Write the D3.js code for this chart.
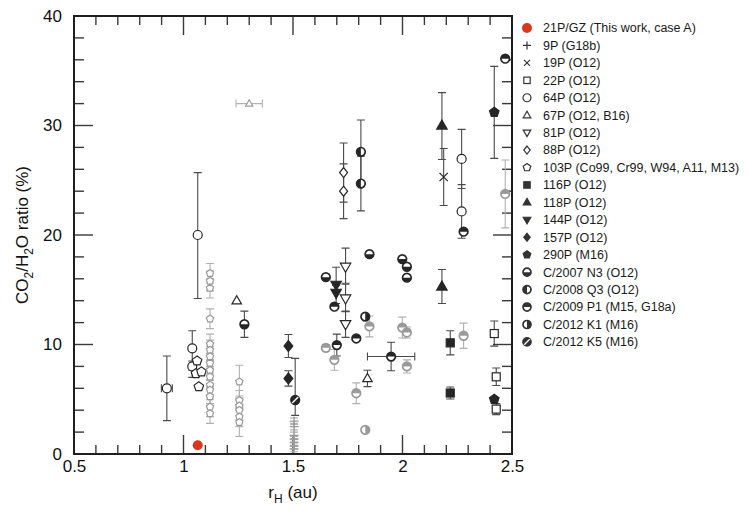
<!DOCTYPE html>
<html>
<head>
<meta charset="utf-8">
<script src="https://cdn.jsdelivr.net/npm/d3@7"></script>
<style>
  body { margin: 0; background: #fff; }
  svg { font-family: "Liberation Sans", Arial, Helvetica, sans-serif; display: block; }
</style>
</head>
<body>
<svg id="chart"></svg>
<script>
// ---- data (r in au, v = CO2/H2O %, e / up / dn = y error, xe = x error) ----
let legendNames = ['21P/GZ (This work, case A)', '9P (G18b)', '19P (O12)', '22P (O12)', '64P (O12)',
  '67P (O12, B16)', '81P (O12)', '88P (O12)', '103P (Co99, Cr99, W94, A11, M13)', '116P (O12)',
  '118P (O12)', '144P (O12)', '157P (O12)', '290P (M16)', 'C/2007 N3 (O12)', 'C/2008 Q3 (O12)',
  'C/2009 P1 (M15, G18a)', 'C/2012 K1 (M16)', 'C/2012 K5 (M16)']

let p21 = [{r: 1.065, v: 0.8}]
let p9 = [
  {r: 1.505, v: 3.0, e: 0.3, ref: 'G18b'}, {r: 1.505, v: 2.5, e: 0.3, ref: 'G18b'},
  {r: 1.505, v: 1.7, e: 0.3, ref: 'G18b'}, {r: 1.505, v: 1.35, e: 0.25, ref: 'G18b'},
  {r: 1.505, v: 1.05, e: 0.25, ref: 'G18b'}, {r: 1.505, v: 0.75, e: 0.25, ref: 'G18b'},
  {r: 1.505, v: 0.45, e: 0.25, ref: 'G18b'}]
let p19 = [{r: 2.188, v: 25.3, e: 2.6}]
let p22 = [{r: 2.419, v: 11.0, e: 1.15}, {r: 2.428, v: 7.05, e: 0.8}, {r: 2.428, v: 4.1, e: 0.5}]
let p64 = [{r: 1.065, v: 20.0, up: 5.7, dn: 5.8}, {r: 1.04, v: 9.65, up: 1.6, dn: 2.0},
  {r: 1.04, v: 8.0, up: 0.5, dn: 1.0}, {r: 0.924, v: 6.0, e: 2.95, xe: 0.025},
  {r: 2.27, v: 26.95, e: 2.7}, {r: 2.27, v: 22.15, e: 2.45}]
let p67 = [{r: 1.30, v: 32.0, xe: 0.06, ref: 'B16'}, {r: 1.243, v: 14.0}, {r: 1.84, v: 6.9, e: 0.75}]
let p81 = [{r: 1.74, v: 17.1, up: 1.7, dn: 1.5}, {r: 1.74, v: 14.2, up: 1.3, dn: 1.2}, {r: 1.74, v: 11.85, e: 1.2}]
let p88 = [{r: 1.731, v: 25.7, e: 2.7}, {r: 1.731, v: 24.0, e: 2.5}]
let p103 = [{r: 1.062, v: 8.5}, {r: 1.057, v: 7.35}, {r: 1.082, v: 7.5}, {r: 1.07, v: 6.15},
  {r: 1.121, v: 16.5, e: 0.9, ref: 'A11'}, {r: 1.121, v: 15.8, e: 0.9, ref: 'A11'},
  {r: 1.121, v: 15.15, e: 0.9, ref: 'A11'}, {r: 1.121, v: 12.35, e: 0.9, ref: 'A11'},
  {r: 1.121, v: 10.05, e: 0.9, ref: 'A11'}, {r: 1.121, v: 9.5, e: 0.9, ref: 'A11'},
  {r: 1.121, v: 8.9, e: 0.9, ref: 'A11'}, {r: 1.121, v: 8.3, e: 0.9, ref: 'A11'},
  {r: 1.121, v: 7.65, e: 0.9, ref: 'A11'}, {r: 1.121, v: 7.05, e: 0.9, ref: 'A11'},
  {r: 1.121, v: 6.3, e: 0.9, ref: 'A11'}, {r: 1.121, v: 5.85, e: 0.9, ref: 'A11'},
  {r: 1.121, v: 5.25, e: 0.9, ref: 'A11'}, {r: 1.121, v: 4.3, e: 0.9, ref: 'A11'},
  {r: 1.121, v: 3.7, e: 0.9, ref: 'A11'},
  {r: 1.255, v: 6.6, e: 1.5, ref: 'M13'}, {r: 1.255, v: 4.9, e: 0.9, ref: 'M13'},
  {r: 1.255, v: 4.4, e: 0.9, ref: 'M13'}, {r: 1.255, v: 4.0, e: 0.9, ref: 'M13'},
  {r: 1.255, v: 3.4, e: 0.9, ref: 'M13'}, {r: 1.255, v: 2.9, e: 1.3, ref: 'M13'}]
let p116 = [{r: 2.218, v: 10.15, e: 1.1}, {r: 2.218, v: 5.57, e: 0.55}]
let p118 = [{r: 2.18, v: 30.0, up: 3.0, dn: 3.1}, {r: 2.18, v: 15.3, e: 1.55}]
let p144 = [{r: 1.697, v: 15.45, up: 1.6, dn: 0.7}, {r: 1.697, v: 14.7, up: 0.7, dn: 0.95}]
let p157 = [{r: 1.479, v: 9.86, e: 1.05}, {r: 1.479, v: 6.9, e: 0.7}]
let p290 = [{r: 2.419, v: 31.2, e: 4.2}, {r: 2.419, v: 5.0}]
let n3 = [{r: 1.278, v: 11.85, e: 1.2}, {r: 1.65, v: 16.15}, {r: 1.849, v: 18.25},
  {r: 1.999, v: 17.8}, {r: 2.02, v: 17.1}, {r: 2.02, v: 16.1}]
let q3 = [{r: 1.81, v: 27.6, e: 2.9}, {r: 1.81, v: 24.7, e: 2.5}]
let p1 = [{r: 1.689, v: 13.45}, {r: 1.789, v: 10.55}, {r: 1.70, v: 9.95, e: 1.0},
  {r: 1.948, v: 8.9, e: 1.3, xe: 0.108}, {r: 2.279, v: 20.3}, {r: 2.469, v: 36.1},
  {r: 1.65, v: 9.7, e: 0.3, ref: 'G18a'}, {r: 1.689, v: 8.6, e: 0.95, ref: 'G18a'},
  {r: 1.789, v: 5.55, e: 0.95, ref: 'G18a'}, {r: 1.849, v: 11.65, e: 0.95, ref: 'G18a'},
  {r: 1.999, v: 11.55, e: 0.95, ref: 'G18a'}, {r: 2.02, v: 11.1, e: 0.5, ref: 'G18a'},
  {r: 2.02, v: 8.0, e: 0.6, ref: 'G18a'}, {r: 2.279, v: 10.8, e: 1.15, ref: 'G18a'},
  {r: 2.469, v: 23.75, e: 3.1, ref: 'G18a'}]
let k1 = [{r: 1.83, v: 12.55}, {r: 1.83, v: 2.2, ref: 'M16b'}]
let k5 = [{r: 1.51, v: 4.93, up: 3.8, dn: 1.4}]

let xMajor = [0.5, 1, 1.5, 2, 2.5]
let yMajor = [0, 10, 20, 30, 40]
let xMinor = [0.6, 0.7, 0.8, 0.9, 1.1, 1.2, 1.3, 1.4, 1.6, 1.7, 1.8, 1.9, 2.1, 2.2, 2.3, 2.4]
let yMinor = [2, 4, 6, 8, 12, 14, 16, 18, 22, 24, 26, 28, 32, 34, 36, 38]

// ---- layout ----
let w = 747
let h = 523
let mLeft = 74, mRight = 512, mTop = 16, mBottom = 454
let dark = '#262626'
let grey = '#9a9a9a'
let greyRefs = ['G18a', 'G18b', 'A11', 'M13', 'B16', 'M16b']

let svg = d3.select('#chart').attr('width', w).attr('height', h)

let xScale = d3.scaleLinear().domain([0.5, 2.5]).range([mLeft, mRight])
let yScale = d3.scaleLinear().domain([0, 40]).range([mBottom, mTop])

// marker shapes
let pentagon = (s) => {
  let pts = d3.range(5).map(i => {
    let a = -Math.PI / 2 + i * 2 * Math.PI / 5
    return [s * Math.cos(a), s * Math.sin(a)]
  })
  return 'M' + pts.join('L') + 'Z'
}
let tri = (s, down) => {
  let k = down ? -1 : 1
  return `M0,${-s * k}L${s * 0.95},${s * 0.65 * k}L${-s * 0.95},${s * 0.65 * k}Z`
}

let drawMarker = (g, kind, col, s) => {
  let sw = 1.2
  if (kind === 'red') {
    g.append('circle').attr('r', s).attr('fill', '#d7391f')
  } else if (kind === 'plus') {
    g.append('path').attr('d', `M${-s},0H${s}M0,${-s}V${s}`).attr('stroke', col).attr('stroke-width', sw).attr('fill', 'none')
  } else if (kind === 'x') {
    let q = s * 0.75
    g.append('path').attr('d', `M${-q},${-q}L${q},${q}M${-q},${q}L${q},${-q}`).attr('stroke', col).attr('stroke-width', sw).attr('fill', 'none')
  } else if (kind === 'square' || kind === 'fsquare') {
    let q = s * 0.8
    g.append('rect').attr('x', -q).attr('y', -q).attr('width', 2 * q).attr('height', 2 * q)
     .attr('fill', kind === 'fsquare' ? col : '#fff').attr('stroke', col).attr('stroke-width', sw)
  } else if (kind === 'circle') {
    g.append('circle').attr('r', s).attr('fill', '#fff').attr('stroke', col).attr('stroke-width', sw)
  } else if (kind === 'tri' || kind === 'ftri' || kind === 'dtri' || kind === 'fdtri') {
    let filled = kind[0] === 'f'
    g.append('path').attr('d', tri(s, kind.includes('dtri'))).attr('fill', filled ? col : '#fff').attr('stroke', col).attr('stroke-width', sw)
  } else if (kind === 'diamond' || kind === 'fdiamond') {
    g.append('path').attr('d', `M0,${-s}L${s * 0.8},0L0,${s}L${-s * 0.8},0Z`)
     .attr('fill', kind === 'fdiamond' ? col : '#fff').attr('stroke', col).attr('stroke-width', sw)
  } else if (kind === 'pent' || kind === 'fpent') {
    g.append('path').attr('d', pentagon(s)).attr('fill', kind === 'fpent' ? col : '#fff').attr('stroke', col).attr('stroke-width', sw)
  } else {
    // half-filled circles
    let r = s
    g.append('circle').attr('r', r).attr('fill', '#fff').attr('stroke', col).attr('stroke-width', 1.7)
    let half = {
      bottom: `M${-r},0A${r},${r} 0 0 0 ${r},0Z`,
      top: `M${-r},0A${r},${r} 0 0 1 ${r},0Z`,
      left: `M0,${-r}A${r},${r} 0 0 0 0,${r}Z`,
      right: `M0,${-r}A${r},${r} 0 0 1 0,${r}Z`
    }
    if (kind === 'hk5') {
      g.append('circle').attr('r', r).attr('fill', col)
      g.append('path').attr('d', `M${-r * 0.7},${r * 0.7}L${r * 0.7},${-r * 0.7}`).attr('stroke', '#fff').attr('stroke-width', 1.4)
    } else {
      g.append('path').attr('d', half[kind.slice(1)]).attr('fill', col)
    }
  }
}

let series = [
  {name: legendNames[0], data: p21, kind: 'red', size: 5},
  {name: legendNames[1], data: p9, kind: 'plus', size: 4.5},
  {name: legendNames[2], data: p19, kind: 'x', size: 5.5},
  {name: legendNames[3], data: p22, kind: 'square', size: 5},
  {name: legendNames[4], data: p64, kind: 'circle', size: 4.5},
  {name: legendNames[5], data: p67, kind: 'tri', size: 5},
  {name: legendNames[6], data: p81, kind: 'dtri', size: 5.5},
  {name: legendNames[7], data: p88, kind: 'diamond', size: 5},
  {name: legendNames[8], data: p103, kind: 'pent', size: 5},
  {name: legendNames[9], data: p116, kind: 'fsquare', size: 5},
  {name: legendNames[10], data: p118, kind: 'ftri', size: 5.5},
  {name: legendNames[11], data: p144, kind: 'fdtri', size: 5.5},
  {name: legendNames[12], data: p157, kind: 'fdiamond', size: 5.5},
  {name: legendNames[13], data: p290, kind: 'fpent', size: 5},
  {name: legendNames[14], data: n3, kind: 'hbottom', size: 4.3},
  {name: legendNames[15], data: q3, kind: 'hleft', size: 4.3},
  {name: legendNames[16], data: p1, kind: 'htop', size: 4.3},
  {name: legendNames[17], data: k1, kind: 'hright', size: 4.3},
  {name: legendNames[18], data: k5, kind: 'hk5', size: 4.3}
]

// ---- inward ticks on all four sides ----
let tickG = svg.append('g').attr('fill', '#3a3a3a')
let addX = (vals, len) => vals.forEach(v => {
  let x = xScale(v)
  tickG.append('rect').attr('x', x - 0.7).attr('y', mBottom - len).attr('width', 1.4).attr('height', len)
  tickG.append('rect').attr('x', x - 0.7).attr('y', mTop).attr('width', 1.4).attr('height', len)
})
let addY = (vals, len) => vals.forEach(v => {
  let y = yScale(v)
  tickG.append('rect').attr('x', mLeft).attr('y', y - 0.7).attr('width', len).attr('height', 1.4)
  tickG.append('rect').attr('x', mRight - len).attr('y', y - 0.7).attr('width', len).attr('height', 1.4)
})
addX(xMinor, 9)
addX(xMajor, 19)
addY(yMinor, 10)
addY(yMajor, 19)

// tick labels from d3 axes (lines hidden, labels kept)
svg.append('g').attr('transform', `translate(0,${mBottom})`)
  .call(d3.axisBottom(xScale).tickValues(xMajor).tickSize(0).tickPadding(6).tickFormat(d3.format('')))
  .call(g => g.select('.domain').remove())
  .call(g => g.selectAll('text').attr('font-size', 17).attr('fill', '#111')
     .attr('font-family', '"Liberation Sans", Arial, sans-serif'))
svg.append('g').attr('transform', `translate(${mLeft},0)`)
  .call(d3.axisLeft(yScale).tickValues(yMajor).tickSize(0).tickPadding(12).tickFormat(d3.format('d')))
  .call(g => g.select('.domain').remove())
  .call(g => g.selectAll('text').attr('font-size', 17).attr('fill', '#111')
     .attr('font-family', '"Liberation Sans", Arial, sans-serif'))

// ---- error bars and markers ----
let plot = svg.append('g')
let cap = 4
series.forEach(s => {
  s.data.forEach(d => {
    let ecol = greyRefs.includes(d.ref) ? '#b0b0b0' : '#4a4a4a'
    let cx = xScale(d.r), cy = yScale(d.v)
    let up = d.up !== undefined ? d.up : d.e
    let dn = d.dn !== undefined ? d.dn : d.e
    if (up !== undefined) {
      let y1 = yScale(d.v + up), y2 = yScale(d.v - dn)
      plot.append('path')
        .attr('d', `M${cx},${y1}V${y2}M${cx - cap},${y1}H${cx + cap}M${cx - cap},${y2}H${cx + cap}`)
        .attr('stroke', ecol).attr('stroke-width', 1.1).attr('fill', 'none')
    }
    if (d.xe !== undefined) {
      let x1 = xScale(d.r - d.xe), x2 = xScale(d.r + d.xe)
      plot.append('path')
        .attr('d', `M${x1},${cy}H${x2}M${x1},${cy - cap}V${cy + cap}M${x2},${cy - cap}V${cy + cap}`)
        .attr('stroke', ecol).attr('stroke-width', 1.1).attr('fill', 'none')
    }
  })
})
series.forEach(s => {
  s.data.forEach(d => {
    let col = greyRefs.includes(d.ref) ? grey : dark
    let sz = s.size
    if (d.ref === 'A11' || d.ref === 'M13' || d.ref === 'B16') sz = 3.8
    let g = plot.append('g').attr('transform', `translate(${xScale(d.r)},${yScale(d.v)})`)
    drawMarker(g, s.kind, col, sz)
  })
})

// frame on top
svg.append('path')
  .attr('d', `M${mLeft},${mTop}H${mRight}V${mBottom}H${mLeft}Z`)
  .attr('fill', 'none').attr('stroke', '#1f1f1f').attr('stroke-width', 2)

// ---- axis titles ----
svg.append('text').attr('x', (mLeft + mRight) / 2).attr('y', 498).attr('text-anchor', 'middle')
  .attr('font-size', 17).attr('fill', '#111')
  .call(t => {
    t.append('tspan').text('r')
    t.append('tspan').attr('font-size', 12).attr('dy', 5).text('H')
    t.append('tspan').attr('dy', -5).text(' (au)')
  })
svg.append('text').attr('transform', `translate(28,${(mTop + mBottom) / 2}) rotate(-90)`).attr('text-anchor', 'middle')
  .attr('font-size', 17).attr('fill', '#111')
  .call(t => {
    t.append('tspan').text('CO')
    t.append('tspan').attr('font-size', 12).attr('dy', 5).text('2')
    t.append('tspan').attr('dy', -5).text('/H')
    t.append('tspan').attr('font-size', 12).attr('dy', 5).text('2')
    t.append('tspan').attr('dy', -5).text('O ratio (%)')
  })

// ---- legend ----
let legend = svg.append('g').attr('transform', 'translate(527,28)')
series.forEach((s, i) => {
  let row = legend.append('g').attr('transform', `translate(0,${i * 17.44})`)
  drawMarker(row.append('g'), s.kind, s.kind === 'red' ? null : '#333', s.kind === 'red' ? 5 : 4)
  row.append('text').attr('x', 16).attr('y', 0).attr('dy', '0.35em')
    .attr('font-size', 12.5).attr('fill', '#1a1a1a').text(s.name)
})
</script>
</body>
</html>
